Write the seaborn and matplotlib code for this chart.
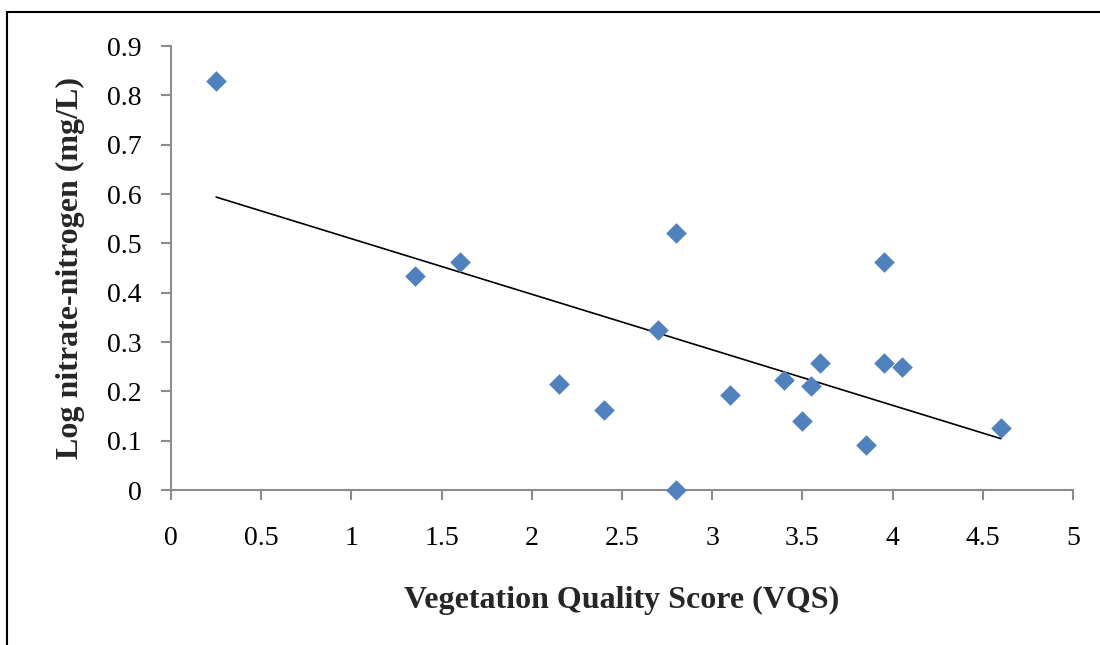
import numpy as np
import pandas as pd
import matplotlib
matplotlib.use("Agg")
import matplotlib.pyplot as plt
from matplotlib.patches import Rectangle
import seaborn as sns

vqs = [0.25, 1.35, 1.6, 2.15, 2.4, 2.8, 2.7, 2.8, 3.1, 3.4, 3.55, 3.5, 3.6, 3.85, 3.95, 3.95, 4.05, 4.6]
log_no3 = [0.83, 0.433, 0.463, 0.215, 0.163, 0.52, 0.325, 0.0, 0.193, 0.222, 0.211, 0.14, 0.258, 0.091, 0.463, 0.258, 0.25, 0.126]
x_ticks = [0, 0.5, 1, 1.5, 2, 2.5, 3, 3.5, 4, 4.5, 5]
x_tick_labels = ["0", "0.5", "1", "1.5", "2", "2.5", "3", "3.5", "4", "4.5", "5"]
y_ticks = [0, 0.1, 0.2, 0.3, 0.4, 0.5, 0.6, 0.7, 0.8, 0.9]
y_tick_labels = ["0", "0.1", "0.2", "0.3", "0.4", "0.5", "0.6", "0.7", "0.8", "0.9"]

df = pd.DataFrame({"vqs": vqs, "no3": log_no3})

sns.set_theme(style="white")
plt.rcParams["font.family"] = ["Liberation Serif", "DejaVu Serif"]

fig = plt.figure(figsize=(11, 6.45), dpi=100)
ax = fig.add_axes([171/1100, 1 - 490/645, (1073-171)/1100, (490-46)/645])

sns.regplot(data=df, x="vqs", y="no3", ax=ax, ci=None, truncate=True,
            marker="D",
            scatter_kws={"s": 110, "color": "#4F81BD", "alpha": 1.0,
                         "linewidths": 0, "zorder": 3, "clip_on": False},
            line_kws={"color": "black", "linewidth": 1.2, "zorder": 2})

ax.set_xlim(0, 5)
ax.set_ylim(0, 0.9)
ax.set_xticks(x_ticks)
ax.set_xticklabels(x_tick_labels)
ax.set_yticks(y_ticks)
ax.set_yticklabels(y_tick_labels)

for side in ["top", "right"]:
    ax.spines[side].set_visible(False)
for side in ["left", "bottom"]:
    ax.spines[side].set_color("#8c8c8c")
    ax.spines[side].set_linewidth(1.5)
    ax.spines[side].set_zorder(1)

ax.tick_params(axis="x", direction="out", length=7, width=1.5, color="#8c8c8c",
               labelsize=20, pad=19, labelcolor="black")
ax.tick_params(axis="y", direction="out", length=7, width=1.5, color="#8c8c8c",
               labelsize=20, pad=14, labelcolor="black")
ax.tick_params(bottom=True, left=True)

ax.set_xlabel("Vegetation Quality Score (VQS)", fontsize=23, fontweight="bold", labelpad=25)
ax.set_ylabel("Log nitrate-nitrogen (mg/L)", fontsize=23, fontweight="bold", labelpad=16)

fig.patches.append(Rectangle((7/1100, -0.1), 1.2, 1 - 12/645 + 0.1, transform=fig.transFigure,
                             fill=False, edgecolor="black", linewidth=1.5, figure=fig))

fig.savefig("out.png", dpi=100)
